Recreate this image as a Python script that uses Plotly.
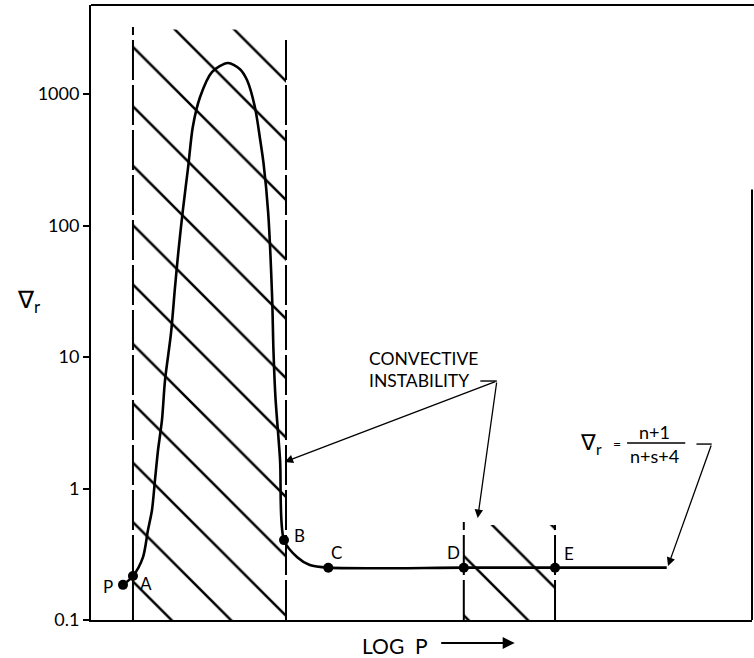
import plotly.graph_objects as go

# ---- data (log P in arbitrary units 0-100, gradient on log scale) ----
curve_x = [4.84, 6.35, 7.87, 8.62, 9.23, 9.68, 10.14, 10.74, 11.2, 12.1, 12.7, 13.2,
           13.9, 14.7, 15.4, 16.5, 18.3, 20.7, 22.5, 23.6, 24.8, 25.6, 26.1, 26.8,
           27.4, 27.6, 27.9, 28.6, 29.2, 31.2, 33.1, 35.9, 56.4, 70.2, 87.1]
curve_y = [0.185, 0.216, 0.301, 0.483, 0.687, 1.16, 1.96, 3.32, 6.68, 15.1, 33.5, 62,
           131, 279, 562, 949, 1470, 1720, 1550, 1277, 794, 447, 298, 126,
           28.6, 11.3, 4.97, 1.65, 0.405, 0.30, 0.262, 0.25, 0.25, 0.25, 0.25]

point_names = ["P", "A", "B", "C", "D", "E"]
point_x = [4.84, 6.35, 29.2, 35.9, 56.4, 70.2]
point_y = [0.185, 0.216, 0.405, 0.25, 0.25, 0.25]

# convective zones: [left, right], hatch top, dashed-boundary tops
zone1_x = [6.35, 29.5]
zone1_top = 3100
zone1_edge_tops = [3230, 2710]
zone2_x = [56.4, 70.2]
zone2_top = 0.527
zone2_edge_tops = [0.556, 0.527]

y_min = 0.1
y_ticks = [0.1, 1, 10, 100, 1000]
y_tick_text = ["0.1", "1", "10", "100", "1000"]

FONT = "Lato"
fig = go.Figure()

# hatched convective regions
for (x0, x1), top in [(zone1_x, zone1_top), (zone2_x, zone2_top)]:
    fig.add_trace(go.Scatter(
        x=[x0, x1, x1, x0, x0], y=[y_min, y_min, top, top, y_min],
        mode="lines", fill="toself", line=dict(width=0, color="rgba(0,0,0,0)"),
        fillcolor="white",
        fillpattern=dict(shape="\\", size=42, solidity=0.06, fgopacity=1,
                         fgcolor="black", bgcolor="white"),
        hoverinfo="skip", showlegend=False))

# dashed zone boundaries
for xs, tops in [(zone1_x, zone1_edge_tops), (zone2_x, zone2_edge_tops)]:
    for xv, tv in zip(xs, tops):
        fig.add_trace(go.Scatter(
            x=[xv, xv], y=[y_min, tv], mode="lines",
            line=dict(color="black", width=2, dash="40px,5px"),
            hoverinfo="skip", showlegend=False))

# radiative gradient curve
fig.add_trace(go.Scatter(
    x=curve_x, y=curve_y, mode="lines",
    line=dict(color="black", width=2.6, shape="spline", smoothing=0.8),
    hoverinfo="skip", showlegend=False))

# labelled points
fig.add_trace(go.Scatter(
    x=point_x, y=point_y, mode="markers",
    marker=dict(color="black", size=10),
    hoverinfo="skip", showlegend=False))

label_pos = {"P": (2.57, -0.749), "A": (8.3, -0.719), "B": (31.5, -0.354),
             "C": (37.2, -0.49), "D": (54.8, -0.49), "E": (72.3, -0.498)}
for name in point_names:
    lx, ly = label_pos[name]
    fig.add_annotation(x=lx, y=ly, text=name, showarrow=False,
                       font=dict(family=FONT, size=17, color="black"))

# leader ticks and fraction bar
def seg(x0, y0, x1, y1, w=1.4):
    fig.add_trace(go.Scatter(x=[x0, x1], y=[y0, y1], mode="lines",
                             line=dict(color="black", width=w),
                             hoverinfo="skip", showlegend=False))

seg(58.9, 10**0.8175, 61.4, 10**0.8175)   # dash after INSTABILITY
seg(91.6, 10**0.338, 93.9, 10**0.338)     # dash after formula
seg(81.1, 10**0.346, 89.9, 10**0.346)     # fraction bar

# text labels
fig.add_annotation(x=41.75, y=0.992, text="CONVECTIVE", showarrow=False, xanchor="left",
                   font=dict(family=FONT, size=17.5, color="black"))
fig.add_annotation(x=41.75, y=0.825, text="INSTABILITY", showarrow=False, xanchor="left",
                   font=dict(family=FONT, size=17.5, color="black"))

# arrows from the convective label
for hx, hy in [(29.3, 0.2015), (58.5, -0.224)]:
    fig.add_annotation(x=hx, y=hy, ax=61.4, ay=0.8175, axref="x", ayref="y",
                       text="", showarrow=True, arrowhead=2, arrowsize=1.3,
                       arrowwidth=1.3, arrowcolor="black")

# formula for the flat part
fig.add_annotation(x=75.6, y=0.346, text="\u2207<sub>r</sub>", showarrow=False,
                   font=dict(family=FONT, size=22, color="black"))
fig.add_annotation(x=79.6, y=0.346, text="=", showarrow=False,
                   font=dict(family=FONT, size=14, color="black"))
fig.add_annotation(x=85.3, y=0.43, text="n+1", showarrow=False,
                   font=dict(family=FONT, size=18, color="black"))
fig.add_annotation(x=85.3, y=0.245, text="n+s+4", showarrow=False,
                   font=dict(family=FONT, size=18, color="black"))
fig.add_annotation(x=87.3, y=-0.589, ax=93.9, ay=0.338, axref="x", ayref="y",
                   text="", showarrow=True, arrowhead=2, arrowsize=1.3,
                   arrowwidth=1.3, arrowcolor="black")

# axis titles
fig.add_annotation(xref="paper", yref="paper", x=-0.095, y=0.52,
                   xanchor="center", yanchor="middle",
                   text="\u2207<sub>r</sub>", showarrow=False,
                   font=dict(family=FONT, size=24, color="black"))
fig.add_annotation(xref="paper", yref="paper", x=0.46, y=-0.0407,
                   xanchor="center", yanchor="middle",
                   text="LOG  P", showarrow=False,
                   font=dict(family=FONT, size=21, color="black"))
fig.add_annotation(xref="paper", yref="paper", x=0.641, y=-0.0374,
                   ax=-75, ay=0, text="", showarrow=True, arrowhead=2,
                   arrowsize=1.2, arrowwidth=2, arrowcolor="black")

# frame: top edge and partial right edge
fig.add_shape(type="line", xref="paper", yref="paper", x0=0, x1=1.003, y0=1, y1=1,
              line=dict(color="black", width=2))
fig.add_shape(type="line", xref="paper", yref="paper", x0=1, x1=1, y0=0, y1=0.70,
              line=dict(color="black", width=2))

fig.update_xaxes(range=[0, 100], showgrid=False, zeroline=False, showticklabels=False,
                 ticks="", showline=True, linecolor="black", linewidth=2)
fig.update_yaxes(type="log", range=[-1, 3.677], showgrid=False, zeroline=False,
                 tickvals=y_ticks, ticktext=y_tick_text, ticks="outside", ticklen=6,
                 tickwidth=2, tickcolor="black", showline=True, linecolor="black",
                 linewidth=2, tickfont=dict(family=FONT, size=18, color="black"))

fig.update_layout(width=754, height=658, margin=dict(l=91, r=2, t=5, b=38),
                  plot_bgcolor="white", paper_bgcolor="white")

fig.write_html("out.html")
